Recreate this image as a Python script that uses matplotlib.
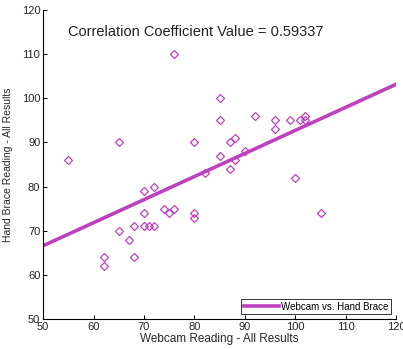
import matplotlib
matplotlib.use("Agg")
import matplotlib.pyplot as plt
import numpy as np

plt.rcParams['font.family'] = ['Liberation Sans', 'DejaVu Sans']

# readings
webcam = [55, 62, 62, 65, 65, 67, 68, 68, 70, 70, 70, 71, 72, 72, 74, 75, 76, 76,
          80, 80, 80, 82, 85, 85, 85, 87, 87, 88, 88, 90, 92, 96, 96, 99, 101,
          102, 102, 100, 105]
brace = [86, 64, 62, 90, 70, 68, 71, 64, 79, 74, 71, 71, 80, 71, 75, 74, 75, 110,
         90, 74, 73, 83, 100, 95, 87, 90, 84, 91, 86, 88, 96, 95, 93, 95, 95,
         96, 95, 82, 74]

# fitted line ends
fit_x = [50, 120]
fit_y = [66.6, 103.2]

corr_text = 'Correlation Coefficient Value = 0.59337'
col = '#bf40bf'

fig = plt.figure(figsize=(4.03, 3.49), dpi=100)
ax = fig.add_axes([0.107, 0.086, 0.876, 0.885])

ax.plot(webcam, brace, linestyle='none', marker='D', markersize=4.2,
        markerfacecolor='none', markeredgecolor=col, markeredgewidth=0.9)
ax.plot(fit_x, fit_y, color=col, linewidth=2.6, label='Webcam vs. Hand Brace')

ax.set_xlim(50, 120)
ax.set_ylim(50, 120)
ax.set_xticks(np.arange(50, 121, 10))
ax.set_yticks(np.arange(50, 121, 10))
ax.spines['top'].set_visible(False)
ax.spines['right'].set_visible(False)
ax.tick_params(direction='in', length=3, labelsize=8, width=0.7, pad=2,
               labelcolor='#262626')
for s in ax.spines.values():
    s.set_linewidth(0.8)

ax.text(55, 115, corr_text, fontsize=10.5, color='#222222', va='center')

ax.set_xlabel('Webcam Reading - All Results', fontsize=8.5, labelpad=1,
              color='#262626')
ax.set_ylabel('Hand Brace Reading - All Results', fontsize=7.5, labelpad=6,
              color='#262626')

leg = ax.legend(loc='lower right', fontsize=7, frameon=True, fancybox=False,
                borderpad=0.25, handlelength=3.6, handletextpad=0.3,
                borderaxespad=0.5)
leg.get_frame().set_edgecolor('black')
leg.get_frame().set_linewidth(0.7)

fig.savefig('out.png', dpi=100)
